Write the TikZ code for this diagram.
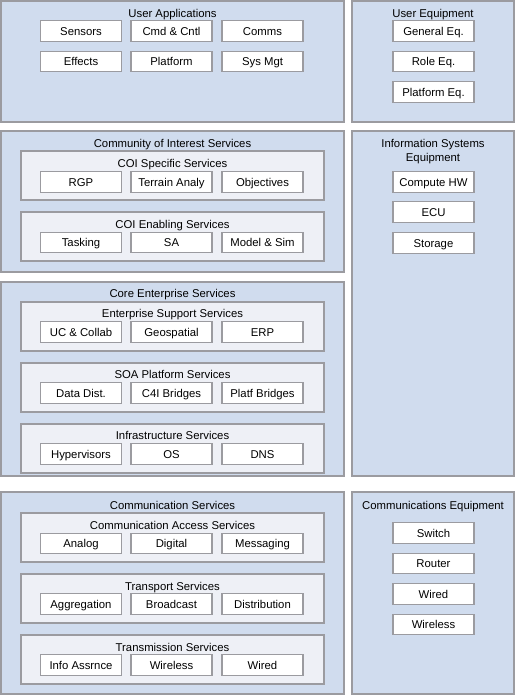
\documentclass[tikz,border=0pt]{standalone}
\usepackage{fontspec}
\setmainfont{Liberation Sans}
\definecolor{outerfill}{RGB}{208,220,238}
\definecolor{innerfill}{RGB}{238,240,246}
\definecolor{edge}{RGB}{155,155,160}
\newcommand\pbox[6]{\node[#1, minimum width={(#5-#3)*0.75pt}, minimum height={(#6-#4)*0.75pt}] (#2) at ({(#3+#5)/2},{(#4+#6)/2}) {};}
\begin{document}
\begin{tikzpicture}[x=0.75pt,y=-0.75pt,
  outer/.style={draw=edge, fill=outerfill, line width=0.9pt, inner sep=0pt, outer sep=0pt},
  inner/.style={draw=edge, fill=innerfill, line width=0.8pt, inner sep=0pt, outer sep=0pt},
  leaf/.style={draw=edge, fill=white, line width=0.8pt, inner sep=0pt, minimum width=60.75pt, minimum height=15.5pt, text height=6.1pt, text depth=0pt, font=\fontsize{8.5}{10}\selectfont},
  title/.style={inner sep=0pt, text height=6.1pt, text depth=0pt, font=\fontsize{8.5}{10.5}\selectfont}]
\useasboundingbox (0,0) rectangle (515,697);
% outer containers
\pbox{outer}{ua}{1}{1}{344}{122}
\pbox{outer}{coi}{1}{131}{344}{272}
\pbox{outer}{ces}{1}{282}{344}{476}
\pbox{outer}{cs}{1}{492}{344}{694}
\pbox{outer}{ue}{352}{1}{514}{122}
\pbox{outer}{ise}{352}{131}{514}{476}
\pbox{outer}{ce}{352}{492}{514}{694}
% inner containers
\pbox{inner}{coisp}{21}{151}{324}{200}
\pbox{inner}{coien}{21}{212}{324}{261}
\pbox{inner}{ess}{21}{302}{324}{351}
\pbox{inner}{soa}{21}{363}{324}{412}
\pbox{inner}{infra}{21}{424}{324}{473}
\pbox{inner}{cas}{21}{513}{324}{562}
\pbox{inner}{trs}{21}{574}{324}{623}
\pbox{inner}{tms}{21}{635}{324}{684}
% titles
\node[title] (tua) at (172.5,13) {User Applications};
\node[title] (tcoi) at (172.5,143.5) {Community of Interest Services};
\node[title] (tcoisp) at (172.5,163.5) {COI Specific Services};
\node[title] (tcoien) at (172.5,224.5) {COI Enabling Services};
\node[title] (tces) at (172.5,293.5) {Core Enterprise Services};
\node[title] (tess) at (172.5,313.5) {Enterprise Support Services};
\node[title] (tsoa) at (172.5,374.5) {SOA Platform Services};
\node[title] (tinfra) at (172.5,435.5) {Infrastructure Services};
\node[title] (tcs) at (172.5,505.5) {Communication Services};
\node[title] (tcas) at (172.5,525.5) {Communication Access Services};
\node[title] (ttrs) at (172.5,586.5) {Transport Services};
\node[title] (ttms) at (172.5,647.5) {Transmission Services};
\node[title] (tue) at (433,13) {User Equipment};
\node[title] (tise) at (433,143.5) {Information Systems};
\node[title] (tise2) at (433,157.5) {Equipment};
\node[title] (tce) at (433,505.5) {Communications Equipment};
% leaves
\node[leaf] (sensors) at (81,31) {Sensors};
\node[leaf] (cmd) at (171.5,31) {Cmd \& Cntl};
\node[leaf] (comms) at (262.5,31) {Comms};
\node[leaf] (effects) at (81,61.5) {Effects};
\node[leaf] (platform) at (171.5,61.5) {Platform};
\node[leaf] (sysmgt) at (262.5,61.5) {Sys Mgt};
\node[leaf] (rgp) at (81,182) {RGP};
\node[leaf] (terrain) at (171.5,182) {Terrain Analy};
\node[leaf] (objectives) at (262.5,182) {Objectives};
\node[leaf] (tasking) at (81,242.5) {Tasking};
\node[leaf] (sa) at (171.5,242.5) {SA};
\node[leaf] (modelsim) at (262.5,242.5) {Model \& Sim};
\node[leaf] (uccollab) at (81,332) {UC \& Collab};
\node[leaf] (geo) at (171.5,332) {Geospatial};
\node[leaf] (erp) at (262.5,332) {ERP};
\node[leaf] (datadist) at (81,393) {Data Dist.};
\node[leaf] (c4i) at (171.5,393) {C4I Bridges};
\node[leaf] (platf) at (262.5,393) {Platf Bridges};
\node[leaf] (hyper) at (81,454) {Hypervisors};
\node[leaf] (os) at (171.5,454) {OS};
\node[leaf] (dns) at (262.5,454) {DNS};
\node[leaf] (analog) at (81,543.5) {Analog};
\node[leaf] (digital) at (171.5,543.5) {Digital};
\node[leaf] (messaging) at (262.5,543.5) {Messaging};
\node[leaf] (aggr) at (81,604) {Aggregation};
\node[leaf] (broad) at (171.5,604) {Broadcast};
\node[leaf] (distr) at (262.5,604) {Distribution};
\node[leaf] (info) at (81,665) {Info Assrnce};
\node[leaf] (wireless1) at (171.5,665) {Wireless};
\node[leaf] (wired1) at (262.5,665) {Wired};
\node[leaf] (general) at (433.5,31) {General Eq.};
\node[leaf] (role) at (433.5,61.5) {Role Eq.};
\node[leaf] (plateq) at (433.5,92) {Platform Eq.};
\node[leaf] (compute) at (433.5,182) {Compute HW};
\node[leaf] (ecu) at (433.5,212) {ECU};
\node[leaf] (storage) at (433.5,243) {Storage};
\node[leaf] (switch) at (433.5,533) {Switch};
\node[leaf] (router) at (433.5,563.5) {Router};
\node[leaf] (wired2) at (433.5,594) {Wired};
\node[leaf] (wireless2) at (433.5,624.5) {Wireless};
\end{tikzpicture}
\end{document}
